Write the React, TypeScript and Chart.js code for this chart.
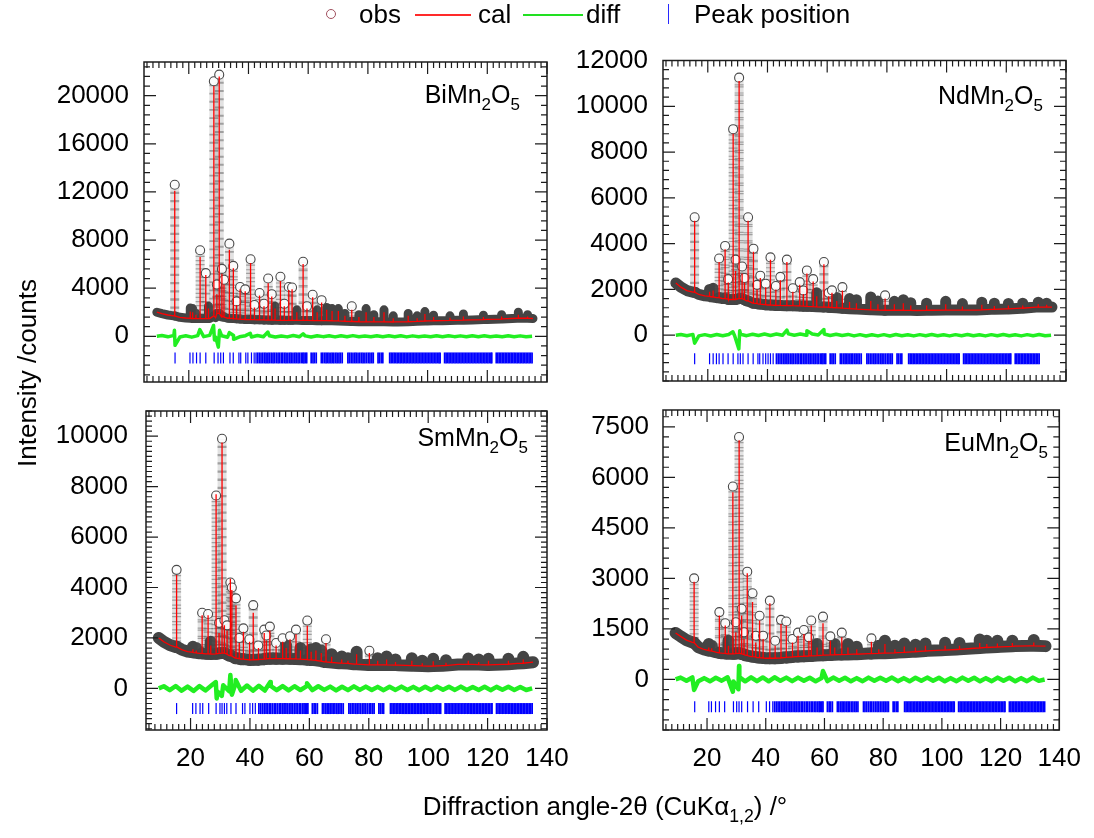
import React, { useEffect, useRef } from 'react';
import { Chart, registerables } from 'chart.js';

Chart.register(...registerables);

const FONT = '"Liberation Sans", Arial, Helvetica, sans-serif';
Chart.defaults.font.family = FONT;

// ---------------- axes / ticks ----------------
const X_RANGE = [5, 140];
const X_MAJOR_TICKS = [20, 40, 60, 80, 100, 120, 140];
const X_MINOR_STEP = 2;

const BI_Y_TICKS = [0, 4000, 8000, 12000, 16000, 20000];
const ND_Y_TICKS = [0, 2000, 4000, 6000, 8000, 10000, 12000];
const SM_Y_TICKS = [0, 2000, 4000, 6000, 8000, 10000];
const EU_Y_TICKS = [0, 1500, 3000, 4500, 6000, 7500];

// ---------------- background (2θ, counts) ----------------
const BG_X = [9.3, 11, 13, 15, 17, 19, 21, 23, 25, 27, 29, 31, 33, 35, 37, 40, 43, 46, 50, 55, 60, 65, 70, 75, 80, 85, 90, 95, 100, 105, 110, 115, 120, 125, 130, 135.3];
const BI_BG = [2000, 1880, 1770, 1700, 1580, 1520, 1480, 1470, 1470, 1480, 1550, 1600, 1500, 1470, 1430, 1390, 1370, 1350, 1330, 1330, 1320, 1300, 1280, 1230, 1200, 1200, 1190, 1220, 1280, 1300, 1330, 1360, 1400, 1440, 1500, 1480];
const ND_BG = [2280, 2100, 1950, 1880, 1780, 1720, 1680, 1640, 1600, 1560, 1560, 1600, 1500, 1400, 1360, 1320, 1300, 1290, 1280, 1250, 1230, 1180, 1140, 1110, 1090, 1090, 1080, 1090, 1100, 1100, 1100, 1130, 1150, 1180, 1230, 1230];
const SM_BG = [2000, 1850, 1720, 1640, 1540, 1460, 1420, 1390, 1370, 1360, 1380, 1400, 1300, 1200, 1160, 1130, 1150, 1180, 1180, 1170, 1130, 1050, 1000, 960, 930, 930, 920, 900, 880, 900, 950, 950, 930, 950, 990, 1040];
const EU_BG = [1380, 1280, 1170, 1100, 960, 890, 850, 810, 780, 760, 760, 780, 720, 680, 650, 630, 630, 650, 680, 700, 720, 740, 750, 770, 780, 800, 820, 850, 870, 890, 920, 950, 970, 990, 1000, 990];

// ---------------- peaks: [2θ, base, calculated top, observed top] ----------------
const BI_PEAKS = [
  [15.3, 1690, 12100, 12600], [20.5, 1490, 2050, 2350], [21.3, 1480, 2000, 2300], [22.4, 1470, 1800, 1900],
  [23.8, 1470, 6600, 7150], [25.7, 1470, 5100, 5250], [26.6, 1480, 2300, 2500], [28.4, 1700, 20800, 21200],
  [29.4, 1900, 3500, 4300], [30.2, 1900, 21600, 21750], [31.1, 1700, 5200, 5600], [31.8, 1600, 4300, 4700],
  [33.6, 1500, 7200, 7700], [34.9, 1480, 5650, 5850], [36.0, 1450, 2600, 2900], [37.2, 1430, 3900, 4100],
  [38.9, 1400, 3750, 3900], [40.7, 1390, 6100, 6400], [42.0, 1380, 2400, 2600], [43.7, 1370, 3400, 3600],
  [45.2, 1360, 2500, 2700], [46.6, 1350, 4400, 4800], [47.8, 1340, 3300, 3500], [48.9, 1340, 2300, 2500],
  [50.7, 1330, 4600, 4950], [52.0, 1330, 2500, 2700], [53.5, 1330, 3850, 4100], [54.6, 1330, 3900, 4050],
  [56.2, 1330, 2000, 2200], [58.3, 1320, 6000, 6200], [59.6, 1320, 2300, 2500], [61.5, 1310, 3250, 3450],
  [63.0, 1300, 2000, 2200], [64.5, 1300, 2800, 3000], [66.2, 1300, 2200, 2400], [68.0, 1290, 2100, 2300],
  [70.1, 1280, 2100, 2300], [72.3, 1250, 1700, 1900], [74.6, 1230, 2200, 2500], [77.0, 1210, 1600, 1800],
  [79.4, 1200, 2000, 2300], [82.0, 1200, 1600, 1800], [85.4, 1200, 2000, 2200], [88.5, 1190, 1500, 1700],
  [93.5, 1210, 1700, 1900], [96.5, 1240, 1500, 1700], [99.1, 1270, 1850, 2050], [102.0, 1290, 1600, 1750],
  [107.5, 1320, 1550, 1700], [112.0, 1340, 1650, 1850], [118.7, 1390, 1600, 1750], [124.8, 1430, 1650, 1800],
  [130.4, 1500, 1800, 2000], [133.5, 1500, 1650, 1800],
];
const ND_PEAKS = [
  [15.6, 1880, 5000, 5150], [20.6, 1700, 1900, 2000], [21.8, 1670, 1950, 2050], [23.8, 1640, 3200, 3350],
  [25.8, 1600, 3750, 3900], [26.8, 1580, 2300, 2450], [28.5, 1560, 8800, 9000], [29.3, 1560, 2800, 3300],
  [30.5, 1600, 11100, 11250], [31.5, 1600, 2700, 3000], [32.3, 1550, 2300, 2500], [33.5, 1500, 5000, 5150],
  [35.3, 1400, 3650, 3780], [36.5, 1380, 2000, 2200], [37.6, 1360, 2500, 2600], [39.4, 1330, 2100, 2250],
  [41.0, 1320, 3300, 3400], [42.8, 1300, 2000, 2150], [44.3, 1300, 2400, 2550], [46.5, 1290, 3200, 3300],
  [48.5, 1290, 1900, 2050], [50.8, 1280, 2200, 2320], [52.0, 1270, 1800, 1950], [53.2, 1260, 2700, 2830],
  [55.3, 1250, 2350, 2450], [56.5, 1240, 1700, 1850], [58.9, 1230, 3100, 3200], [60.5, 1220, 1700, 1850],
  [61.6, 1210, 1850, 1960], [63.2, 1200, 1500, 1650], [65.1, 1180, 1950, 2100], [67.5, 1160, 1450, 1600],
  [69.8, 1140, 1400, 1550], [74.6, 1110, 1500, 1670], [77.0, 1100, 1350, 1500], [79.4, 1090, 1600, 1740],
  [82.5, 1090, 1350, 1480], [85.5, 1090, 1400, 1550], [88.0, 1085, 1300, 1420], [93.3, 1090, 1300, 1400],
  [99.7, 1100, 1350, 1480], [105.3, 1100, 1250, 1380], [111.8, 1110, 1330, 1440], [116.0, 1130, 1280, 1400],
  [120.7, 1150, 1300, 1390], [125.5, 1180, 1300, 1400], [130.7, 1230, 1350, 1440], [133.5, 1230, 1330, 1400],
];
const SM_PEAKS = [
  [15.3, 1650, 4500, 4700], [20.8, 1430, 1550, 1650], [21.9, 1410, 1500, 1600], [23.9, 1390, 2900, 3000],
  [25.9, 1370, 2900, 2950], [26.8, 1365, 1700, 1850], [28.6, 1370, 7700, 7650], [29.6, 1390, 2200, 2600],
  [30.6, 1400, 9750, 9900], [31.4, 1400, 2500, 2700], [32.3, 1350, 2300, 2500], [33.4, 1300, 4350, 4200],
  [33.9, 1280, 3900, 4000], [35.3, 1200, 3300, 3570], [36.4, 1180, 1800, 2000], [37.8, 1160, 2250, 2380],
  [39.8, 1135, 1850, 1950], [41.1, 1135, 3000, 3300], [42.8, 1140, 1600, 1700], [44.8, 1160, 2200, 2330],
  [45.5, 1170, 1900, 2100], [46.7, 1180, 2300, 2450], [48.8, 1180, 1700, 1800], [51.0, 1180, 1850, 1990],
  [52.2, 1175, 1600, 1700], [53.5, 1175, 1950, 2070], [55.5, 1170, 2150, 2330], [57.0, 1160, 1500, 1600],
  [59.3, 1140, 2480, 2690], [60.6, 1130, 1450, 1550], [62.2, 1110, 1500, 1600], [64.0, 1080, 1400, 1500],
  [65.6, 1050, 1800, 1950], [67.5, 1030, 1250, 1350], [70.9, 1000, 1150, 1260], [73.0, 990, 1100, 1200],
  [75.9, 960, 1350, 1455], [80.2, 930, 1400, 1490], [83.0, 930, 1100, 1200], [86.0, 930, 1150, 1260],
  [89.0, 925, 1050, 1150], [94.5, 900, 1100, 1200], [98.0, 890, 1000, 1100], [101.7, 885, 1080, 1180],
  [106.0, 905, 1020, 1120], [113.5, 950, 1100, 1190], [117.0, 945, 1050, 1150], [120.3, 930, 1100, 1180],
  [127.0, 960, 1100, 1180], [132.0, 1000, 1150, 1250],
];
const EU_PEAKS = [
  [15.6, 1090, 2900, 3000], [20.6, 855, 950, 1050], [21.6, 845, 930, 1000], [24.2, 790, 1900, 2000],
  [26.2, 775, 1600, 1670], [27.3, 765, 1000, 1150], [28.8, 760, 5560, 5730], [29.8, 770, 1400, 1700],
  [30.9, 780, 7100, 7200], [31.8, 760, 1900, 2100], [32.6, 740, 1200, 1400], [33.7, 710, 3150, 3200],
  [35.5, 680, 2300, 2560], [36.6, 665, 1100, 1300], [37.9, 650, 1750, 1890], [39.1, 640, 1200, 1300],
  [41.4, 630, 2260, 2340], [43.2, 630, 1000, 1150], [45.2, 640, 1650, 1770], [47.0, 655, 1600, 1720],
  [49.1, 670, 1100, 1200], [51.0, 680, 1300, 1390], [53.0, 690, 1350, 1470], [54.7, 695, 1150, 1250],
  [55.5, 700, 1600, 1750], [57.5, 710, 950, 1050], [59.5, 720, 1670, 1865], [62.0, 730, 1150, 1280],
  [63.5, 735, 950, 1050], [65.9, 740, 1250, 1390], [68.0, 745, 950, 1050], [71.0, 750, 900, 975],
  [76.0, 770, 1120, 1220], [78.5, 775, 900, 1000], [80.6, 780, 1050, 1150], [84.0, 790, 900, 1000],
  [87.2, 805, 980, 1070], [91.0, 825, 950, 1030], [94.4, 845, 1000, 1070], [101.1, 872, 1000, 1090],
  [106.0, 895, 1000, 1080], [112.9, 935, 1080, 1190], [115.3, 950, 1050, 1150], [118.9, 965, 1070, 1150],
  [124.0, 985, 1080, 1150], [131.3, 1000, 1100, 1170],
];

// ---------------- difference curves ----------------
const DIFF_X = [9.3, 11, 13, 15, 17, 19, 21, 23, 25, 27, 29, 31, 33, 35, 37, 39, 41, 43, 45, 47, 49, 51, 53, 55, 57, 59, 61, 63, 65, 67, 69, 71, 73, 75, 77, 79, 81, 83, 85, 87, 89, 91, 93, 95, 97, 99, 101, 103, 105, 107, 109, 111, 113, 115, 117, 119, 121, 123, 125, 127, 129, 131, 133, 135];
const BI_DIFF = [0, 60, -45, 75, -65, 40, -70, 55, -30, 75, -60, 45, -75, 65, -40, 50, -55, 70, -35, 45, -65, 30, -50, 60, -45, 35, -55, 50, -30, 40, -50, 45, -35, 55, -40, 30, -45, 50, -35, 40, -30, 45, -50, 35, -40, 30, -45, 40, -35, 50, -30, 35, -45, 40, -30, 45, -40, 30, -35, 45, -30, 35, -40, 0];
const ND_DIFF = [0, 30, -25, 35, -30, 25, -35, 30, -20, 35, -25, 40, -20, 45, -15, 55, -10, 50, -5, 60, 0, 55, -5, 50, 10, 55, -10, 45, -15, 35, -30, 25, -35, 20, -30, 25, -35, 30, -25, 20, -30, 25, -20, 30, -25, 20, -30, 25, -20, 30, -25, 20, -30, 25, -20, 30, -25, 20, -30, 25, -20, 30, -25, 0];
const SM_DIFF = [0, 85, -70, 95, -90, 70, -100, 90, -80, 110, -120, 125, -115, 140, -95, 115, -90, 100, -85, 95, -70, 90, -80, 85, -65, 80, -70, 85, -60, 70, -80, 65, -70, 80, -60, 70, -65, 60, -70, 65, -60, 70, -65, 60, -70, 65, -60, 70, -55, 65, -60, 70, -65, 55, -60, 65, -70, 60, -55, 65, -60, 55, -65, 0];
const EU_DIFF = [0, 55, -40, 60, -50, 40, -55, 50, -35, 65, -60, 70, -55, 65, -50, 60, -55, 65, -40, 55, -50, 55, -40, 50, -55, 40, -50, 55, -35, 50, -55, 40, -50, 55, -40, 50, -35, 55, -50, 40, -55, 50, -40, 55, -35, 50, -55, 40, -50, 55, -40, 50, -55, 40, -50, 55, -40, 50, -55, 40, -50, 55, -40, 0];
const BI_DIFF_SPIKES = [[15.2, 500], [15.4, -750], [23.7, 550], [28.3, 900], [28.6, -300], [29.9, -900], [30.3, 500], [33.6, 300], [35.0, -250], [40.6, 250], [46.5, 350], [58.3, 200]];
const ND_DIFF_SPIKES = [[15.6, -350], [28.4, 150], [30.4, -600], [30.7, 200], [46.5, 220], [53.2, 200], [58.9, 250]];
const SM_DIFF_SPIKES = [[28.5, 250], [28.8, -400], [30.5, -300], [33.4, 530], [33.9, -250], [35.2, 330], [46.8, 250], [59.2, 200]];
const EU_DIFF_SPIKES = [[15.6, -310], [28.8, -360], [30.7, -290], [30.9, 400], [59.5, 250]];

// ---------------- Bragg reflection positions (2θ) ----------------
const BI_REFL_LOW = [15.4, 20.4, 21.4, 22.6, 23.8, 25.7, 28.5, 29.8, 30.7, 31.6, 33.8, 34.9, 36.8, 37.4, 39.1, 39.8, 41.0, 41.9, 42.5];
const ND_REFL_LOW = [15.6, 20.6, 21.8, 22.9, 23.8, 25.1, 26.8, 28.5, 30.1, 30.9, 31.8, 33.5, 35.2, 36.8, 37.4, 38.5, 39.4, 40.2, 41.0, 41.9];
const SM_REFL_LOW = [15.3, 20.7, 21.8, 23.2, 24.1, 26.1, 28.6, 29.9, 30.6, 31.4, 32.2, 33.6, 35.3, 37.5, 38.3, 40.0, 40.9, 41.8];
const EU_REFL_LOW = [15.8, 20.6, 21.5, 22.9, 24.2, 26.0, 29.0, 30.1, 30.9, 31.8, 33.8, 35.7, 37.6, 40.2, 41.3, 42.4];
const REFL_HIGH = [43.0, 43.6, 44.2, 44.8, 45.4, 45.9, 46.5, 47.0, 47.6, 48.2, 48.7, 49.3, 49.9, 50.4, 51.0, 51.5, 52.1, 52.6, 53.2, 53.8, 54.3, 54.9, 55.5, 56.0, 56.6, 57.1, 57.7, 58.2, 58.6, 59.1, 59.5, 61.0, 61.6, 62.1, 62.7, 64.4, 64.9, 65.5, 66.0, 66.5, 67.0, 67.6, 68.1, 68.6, 69.2, 69.7, 70.3, 70.8, 71.4, 73.3, 73.8, 74.4, 75.0, 75.6, 76.1, 76.7, 77.3, 77.9, 78.4, 79.0, 79.6, 80.2, 80.7, 81.3, 81.8, 83.4, 83.9, 84.5, 85.0, 87.3, 87.8, 88.3, 88.8, 89.3, 89.8, 90.3, 90.8, 91.3, 91.8, 92.3, 92.8, 93.3, 93.8, 94.3, 94.8, 95.3, 95.8, 96.3, 96.8, 97.3, 97.8, 98.3, 98.8, 99.3, 99.8, 100.3, 100.8, 101.3, 101.8, 102.3, 102.8, 103.3, 103.8, 104.2, 105.7, 106.2, 106.7, 107.2, 107.7, 108.2, 108.7, 109.2, 109.7, 110.2, 110.7, 111.2, 111.7, 112.2, 112.7, 113.2, 113.7, 114.2, 114.7, 115.2, 115.7, 116.2, 116.7, 117.2, 117.7, 118.2, 118.7, 119.2, 119.7, 120.2, 120.7, 121.2, 121.5, 123.0, 123.5, 124.0, 124.5, 125.0, 125.5, 126.0, 126.5, 127.0, 127.5, 128.0, 128.5, 129.0, 129.5, 130.0, 130.5, 131.0, 131.5, 132.0, 132.5, 133.0, 133.5, 134.0, 134.5, 135.0];
const ND_REFL_MAX = 131;

// ---------------- panel table (built from the arrays above) ----------------
const Y_AXIS_W = 100;
const X_AXIS_H = 60;
const TALL_PX = 14;

const PANELS = [
  { id: 'bi', prefix: 'Bi', box: { l: 144, t: 62, r: 547, b: 382 }, yMin: -3800, yMax: 22800, yTicks: BI_Y_TICKS, yMinor: 800,
    bg: BI_BG, peaks: BI_PEAKS, diff: BI_DIFF, spikes: BI_DIFF_SPIKES, refl: BI_REFL_LOW.concat(REFL_HIGH), markY: -1800,
    band: 9, diffW: 3.5, yPad: 15, showX: false, labelRight: 520, labelTop: 82 },
  { id: 'nd', prefix: 'Nd', box: { l: 663, t: 60.5, r: 1066, b: 381 }, yMin: -2000, yMax: 12000, yTicks: ND_Y_TICKS, yMinor: 400,
    bg: ND_BG, peaks: ND_PEAKS, diff: ND_DIFF, spikes: ND_DIFF_SPIKES, refl: ND_REFL_LOW.concat(REFL_HIGH.filter((v) => v <= ND_REFL_MAX)), markY: -1030,
    band: 11, diffW: 3.5, yPad: 15, showX: false, labelRight: 1043, labelTop: 83 },
  { id: 'sm', prefix: 'Sm', box: { l: 146, t: 411, r: 547, b: 730 }, yMin: -1650, yMax: 11000, yTicks: SM_Y_TICKS, yMinor: 200,
    bg: SM_BG, peaks: SM_PEAKS, diff: SM_DIFF, spikes: SM_DIFF_SPIKES, refl: SM_REFL_LOW.concat(REFL_HIGH), markY: -800,
    band: 12, diffW: 4.5, yPad: 18, showX: true, labelRight: 528, labelTop: 425 },
  { id: 'eu', prefix: 'Eu', box: { l: 663, t: 410, r: 1066, b: 730 }, yMin: -1500, yMax: 8000, yTicks: EU_Y_TICKS, yMinor: 300,
    bg: EU_BG, peaks: EU_PEAKS, diff: EU_DIFF, spikes: EU_DIFF_SPIKES, refl: EU_REFL_LOW.concat(REFL_HIGH), markY: -810,
    band: 12, diffW: 4.5, yPad: 14, showX: true, labelRight: 1048, labelTop: 430 },
];

function sortByX(pts: any[]) {
  return pts
    .map((p, i) => ({ p, i }))
    .sort((a, b) => a.p.x - b.p.x || a.i - b.i)
    .map((o) => o.p);
}

// which: 2 = calculated, 3 = observed
function buildProfile(bgX: number[], bgY: number[], peaks: number[][], which: number) {
  const pts: { x: number; y: number }[] = [];
  const n = Math.min(bgX.length, bgY.length);
  for (let i = 0; i < n; i++) pts.push({ x: bgX[i], y: bgY[i] });
  for (const k of peaks) {
    pts.push({ x: k[0], y: k[1] }, { x: k[0], y: k[which] }, { x: k[0], y: k[1] });
  }
  return sortByX(pts);
}

function framePlugin(yTicks: number[], yMinor: number) {
  return {
    id: 'frameTicks',
    afterDatasetsDraw(chart: any) {
      const { ctx, chartArea: a, scales } = chart;
      const xs = scales.x;
      const ys = scales.y;
      const MAJ = 12;
      const MIN = 6;
      ctx.save();
      ctx.strokeStyle = '#1c1c1c';
      ctx.lineWidth = 1.2;
      ctx.beginPath();
      const xt = (v: number, len: number) => {
        const px = xs.getPixelForValue(v);
        ctx.moveTo(px, a.bottom);
        ctx.lineTo(px, a.bottom - len);
        ctx.moveTo(px, a.top);
        ctx.lineTo(px, a.top + len);
      };
      const yt = (v: number, len: number) => {
        const py = ys.getPixelForValue(v);
        ctx.moveTo(a.left, py);
        ctx.lineTo(a.left + len, py);
        ctx.moveTo(a.right, py);
        ctx.lineTo(a.right - len, py);
      };
      for (let v = Math.ceil(xs.min / X_MINOR_STEP) * X_MINOR_STEP; v <= xs.max; v += X_MINOR_STEP) {
        if (X_MAJOR_TICKS.indexOf(v) < 0) xt(v, MIN);
      }
      X_MAJOR_TICKS.forEach((v) => xt(v, MAJ));
      for (let v = Math.ceil(ys.min / yMinor) * yMinor; v <= ys.max; v += yMinor) {
        if (yTicks.indexOf(v) < 0) yt(v, MIN);
      }
      yTicks.forEach((v) => yt(v, MAJ));
      ctx.stroke();
      ctx.lineWidth = 1.5;
      ctx.strokeRect(a.left, a.top, a.right - a.left, a.bottom - a.top);
      ctx.restore();
    },
  };
}

const isTallVertical = (c: any) => Math.abs(c.p0.x - c.p1.x) < 0.01 && Math.abs(c.p0.y - c.p1.y) > TALL_PX;

function buildConfig(p: any): any {
  const obsLine = buildProfile(BG_X, p.bg, p.peaks, 3);
  const calLine = buildProfile(BG_X, p.bg, p.peaks, 2);
  const obsTops = p.peaks.map((k: number[]) => ({ x: k[0], y: k[3], base: k[1] }));
  const diffPts: { x: number; y: number }[] = [];
  const n = Math.min(DIFF_X.length, p.diff.length);
  for (let i = 0; i < n; i++) diffPts.push({ x: DIFF_X[i], y: p.diff[i] });
  p.spikes.forEach((s: number[]) => diffPts.push({ x: s[0], y: s[1] }));
  const diff = sortByX(diffPts);
  const refl = p.refl.map((x: number) => ({ x, y: p.markY }));
  const font = { family: FONT, size: 26 };

  const topRadius = (c: any) => {
    const r = c.raw;
    if (!r) return 0;
    const ys = c.chart.scales.y;
    return ys.getPixelForValue(r.base) - ys.getPixelForValue(r.y) > TALL_PX ? 4.5 : 0;
  };

  return {
    type: 'scatter',
    data: {
      datasets: [
        { label: 'Peak position', data: refl, order: 0, showLine: false, pointStyle: 'line', pointRotation: 90,
          pointRadius: 5.5, pointBorderColor: '#0000ff',
          pointBorderWidth: (c: any) => (c.raw && c.raw.x < 42.8 ? 1.2 : 1.7) },
        { label: 'diff', data: diff, order: 1, showLine: true, borderColor: '#22ee22', borderWidth: p.diffW,
          borderJoinStyle: 'round', pointRadius: 0 },
        { label: 'cal', data: calLine, order: 2, showLine: true, borderColor: '#ff0000', borderWidth: 1.3, pointRadius: 0 },
        { label: 'obs', data: obsTops, order: 3, showLine: false, pointRadius: topRadius, pointBorderColor: '#4a4a4a',
          pointBackgroundColor: 'rgba(255,255,255,0.92)', pointBorderWidth: 1.1 },
        { label: 'obs flank', data: obsLine, order: 4, showLine: true, borderWidth: 9, borderColor: 'rgba(0,0,0,0)',
          borderCapStyle: 'butt', pointRadius: 0,
          segment: {
            borderColor: (c: any) => (isTallVertical(c) ? 'rgba(70,70,70,0.42)' : undefined),
            borderDash: (c: any) => (isTallVertical(c) ? [1.2, 7] : undefined),
          } },
        { label: 'obs band', data: obsLine, order: 5, showLine: true, borderWidth: p.band, borderColor: '#444444',
          borderJoinStyle: 'round', borderCapStyle: 'round', pointRadius: 0,
          segment: {
            borderColor: (c: any) => (isTallVertical(c) ? 'rgba(110,110,110,0.2)' : undefined),
            borderWidth: (c: any) => (isTallVertical(c) ? 9 : undefined),
          } },
      ],
    },
    options: {
      animation: false,
      responsive: false,
      events: [],
      layout: {
        padding: {
          left: p.box.l - Y_AXIS_W,
          top: p.box.t,
          right: 1094 - p.box.r,
          bottom: 838 - p.box.b - (p.showX ? X_AXIS_H : 0),
        },
      },
      plugins: { legend: { display: false }, tooltip: { enabled: false }, title: { display: false } },
      scales: {
        x: {
          type: 'linear', min: X_RANGE[0], max: X_RANGE[1], display: p.showX,
          afterFit: (s: any) => { if (p.showX) s.height = X_AXIS_H; },
          afterBuildTicks: (s: any) => { s.ticks = X_MAJOR_TICKS.map((v) => ({ value: v })); },
          ticks: { callback: (v: any) => String(v), font, color: '#000', padding: 13, autoSkip: false, maxRotation: 0 },
          grid: { display: false, drawTicks: false },
          border: { display: false },
        },
        y: {
          type: 'linear', min: p.yMin, max: p.yMax,
          afterFit: (s: any) => { s.width = Y_AXIS_W; },
          afterBuildTicks: (s: any) => { s.ticks = p.yTicks.map((v: number) => ({ value: v })); },
          ticks: { callback: (v: any) => String(v), font, color: '#000', padding: p.yPad, autoSkip: false },
          grid: { display: false, drawTicks: false },
          border: { display: false },
        },
      },
    },
    plugins: [framePlugin(p.yTicks, p.yMinor)],
  };
}

function Panel({ cfg }: { cfg: any }) {
  const ref = useRef<HTMLCanvasElement | null>(null);
  useEffect(() => {
    if (!ref.current) return;
    const chart = new Chart(ref.current, buildConfig(cfg));
    return () => chart.destroy();
  }, [cfg]);
  return <canvas ref={ref} width={1094} height={838} style={{ position: 'absolute', left: 0, top: 0 }} />;
}

const SUB: React.CSSProperties = { fontSize: '0.68em', verticalAlign: '-0.4em', lineHeight: 0 };

export default function App() {
  const abs = (s: React.CSSProperties): React.CSSProperties => ({ position: 'absolute', whiteSpace: 'nowrap', ...s });
  return (
    <div style={{ position: 'absolute', left: 0, top: 0, width: 1094, height: 838, background: '#fff', overflow: 'hidden', fontFamily: FONT, color: '#000' }}>
      {PANELS.map((p) => <Panel key={p.id} cfg={p} />)}

      {PANELS.map((p) => (
        <div key={p.id + '-lab'} style={abs({ right: 1094 - p.labelRight, top: p.labelTop, fontSize: 25, lineHeight: '25px' })}>
          {p.prefix}Mn<sub style={SUB}>2</sub>O<sub style={SUB}>5</sub>
        </div>
      ))}

      {/* legend */}
      <div style={abs({ left: 326, top: 9, width: 8, height: 8, border: '1.3px solid #a0505e', borderRadius: '50%' })} />
      <div style={abs({ left: 359, top: 0, fontSize: 26, lineHeight: '28px' })}>obs</div>
      <div style={abs({ left: 415, top: 14, width: 56, height: 1.5, background: '#ff2a2a' })} />
      <div style={abs({ left: 478, top: 0, fontSize: 26, lineHeight: '28px' })}>cal</div>
      <div style={abs({ left: 523, top: 14, width: 60, height: 1.5, background: '#22e022' })} />
      <div style={abs({ left: 586, top: 0, fontSize: 26, lineHeight: '28px' })}>diff</div>
      <div style={abs({ left: 668, top: 4, width: 1.2, height: 20, background: '#2828ff' })} />
      <div style={abs({ left: 694, top: 0, fontSize: 26, lineHeight: '28px' })}>Peak position</div>

      {/* axis titles */}
      <div style={abs({ left: 27 - 150, top: 373 - 15, width: 300, height: 30, lineHeight: '30px', textAlign: 'center', fontSize: 26, transform: 'rotate(-90deg)' })}>
        Intensity /counts
      </div>
      <div style={abs({ left: 605 - 300, top: 791, width: 600, lineHeight: '30px', textAlign: 'center', fontSize: 26 })}>
        Diffraction angle-2θ (CuKα<sub style={SUB}>1,2</sub>) /°
      </div>
    </div>
  );
}
